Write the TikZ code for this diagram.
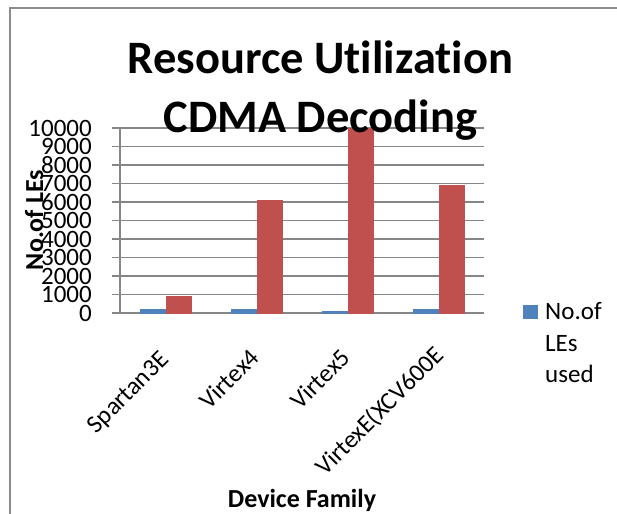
\documentclass[tikz,border=0pt]{standalone}
\usepackage{fontspec}
\setmainfont{Carlito}[Ligatures=NoCommon]
\definecolor{barblue}{HTML}{4F81BD}
\definecolor{barred}{HTML}{C0504D}
\definecolor{gridgray}{HTML}{868686}
\definecolor{framegray}{HTML}{8C8C8C}
\begin{document}
\begin{tikzpicture}[x=1pt,y=-1pt,
  titletext/.style={inner sep=0pt,anchor=base,font=\fontsize{46.5pt}{50pt}\selectfont\bfseries},
  ticktext/.style={inner sep=0pt,anchor=east,font=\fontsize{25pt}{30pt}\selectfont},
  cattext/.style={inner sep=0pt,anchor=base east,rotate=45,font=\fontsize{25pt}{30pt}\selectfont},
  axistitle/.style={inner sep=0pt,anchor=base,font=\fontsize{26pt}{30pt}\selectfont\bfseries},
  legtext/.style={inner sep=0pt,anchor=base west,font=\fontsize{25pt}{30pt}\selectfont},
  gridline/.style={draw=gridgray,line width=1.5pt},
  blueBar/.style={fill=barblue},
  redBar/.style={fill=barred}]
\useasboundingbox (0,0) rectangle (617,513);
\begin{scope}
\clip (0,0) rectangle (617,513);
\draw[framegray,line width=1.8pt] (10,540) -- (10,8) -- (640,8);
\end{scope}
% gridlines
\foreach \k in {0,...,10}{
  \draw[gridline] (112,{313-18.5*\k}) -- (484,{313-18.5*\k});
  \pgfmathtruncatemacro{\val}{\k*1000}
  \node[ticktext] (t\k) at (92,{313-18.5*\k}) {\val};
}
\draw[gridline] (120,128) -- (120,313);
% bars: centers 165.5, 256.5, 347.5, 438.5 ; scale 0.0185 px per unit
\foreach \c/\b/\r in {165.5/230/935, 256.5/230/6108, 347.5/110/10000, 438.5/230/6919}{
  \fill[blueBar] ({\c-26},313.7) rectangle (\c,{313-0.0185*\b});
  \fill[redBar] (\c,313.7) rectangle ({\c+26},{313-0.0185*\r});
}
% title
\node[titletext] (title1) at (320.5,74) {Resource Utilization};
\node[titletext] (title2) at (320.5,132) {CDMA Decoding};
% axis titles
\node[axistitle,rotate=90] (ylab) at (43,220) {No.of LEs};
\node[axistitle] (xlab) at (302,507) {Device Family};
% category labels
\node[cattext] (xl1) at (170,361) {Spartan3E};
\node[cattext] (xl2) at (261,359) {Virtex4};
\node[cattext] (xl3) at (352,359) {Virtex5};
\node[cattext] (xl4) at (445,357) {VirtexE(XCV600E};
% legend
\fill[barblue] (523,305) rectangle (538,319);
\node[legtext] (leg1) at (545,319) {No.of};
\node[legtext] (leg2) at (545,351) {LEs};
\node[legtext] (leg3) at (545,382) {used};
\end{tikzpicture}
\end{document}
